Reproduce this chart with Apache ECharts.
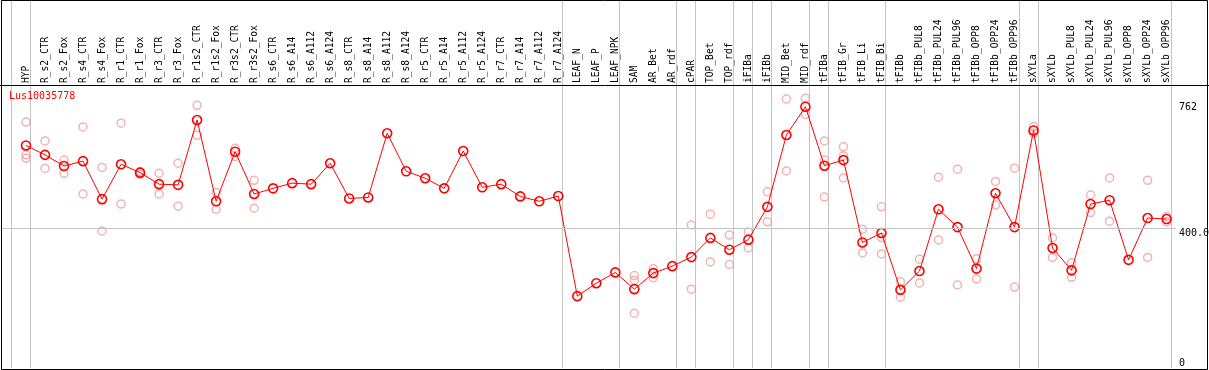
<!DOCTYPE html>
<html>
<head>
<meta charset="utf-8">
<script src="https://cdn.jsdelivr.net/npm/echarts@6/dist/echarts.min.js"></script>
<style>html,body{margin:0;padding:0;background:#fff}#c{width:1209px;height:370px}</style>
</head>
<body>
<div id="c"></div>
<script>
const categories = ['HYP','R_s2_CTR','R_s2_Fox','R_s4_CTR','R_s4_Fox','R_r1_CTR','R_r1_Fox','R_r3_CTR','R_r3_Fox','R_r1s2_CTR','R_r1s2_Fox','R_r3s2_CTR','R_r3s2_Fox','R_s6_CTR','R_s6_A14','R_s6_A112','R_s6_A124','R_s8_CTR','R_s8_A14','R_s8_A112','R_s8_A124','R_r5_CTR','R_r5_A14','R_r5_A112','R_r5_A124','R_r7_CTR','R_r7_A14','R_r7_A112','R_r7_A124','LEAF_N','LEAF_P','LEAF_NPK','SAM','AR_Bet','AR_rdf','cPAR','TOP_Bet','TOP_rdf','iFIBa','iFIBb','MID_Bet','MID_rdf','tFIBa','tFIB_Gr','tFIB_Li','tFIB_Bi','tFIBb','tFIBb_PUL8','tFIBb_PUL24','tFIBb_PUL96','tFIBb_OPP8','tFIBb_OPP24','tFIBb_OPP96','sXYLa','sXYLb','sXYLb_PUL8','sXYLb_PUL24','sXYLb_PUL96','sXYLb_OPP8','sXYLb_OPP24','sXYLb_OPP96'];

const meanValues = [638,611,579,593,484,584,560,527,525,711,478,620,499,515,530,527,587,486,489,673,564,544,515,622,518,527,492,478,493,206,243,274,226,272,292,318,373,339,368,462,668,749,580,596,360,387,224,278,455,404,285,501,404,681,344,280,470,481,310,430,427];

const rep1 = [705,651,596,691,575,702,563,558,587,753,503,630,538,
  null,null,null,null,null,null,null,null,null,null,null,null,null,null,null,null,null,null,null,
  265,285,null,410,441,381,390,505,771,773,651,634,398,462,247,312,547,570,313,535,573,692,373,302,496,545,null,538,434];
const rep2 = [611,572,558,499,393,470,555,499,464,667,455,606,458,
  null,null,null,null,null,null,null,null,null,null,null,null,null,null,null,null,null,null,null,
  251,259,null,226,304,297,344,419,565,727,596,608,330,374,203,244,367,238,255,467,232,673,317,260,446,421,null,317,419];
const rep3 = [601,null,null,null,null,null,null,null,null,null,null,null,null,
  null,null,null,null,null,null,null,null,null,null,null,null,null,null,null,null,null,null,null,
  157,null,null,null,null,null,null,null,null,null,490,545,null,327,null,null,null,null,null,null,null,null,null,null,null,null,null,null,null];

// group separators drawn just after these category indices
const groupEnds = [-1,0,28,31,34,35,37,38,39,41,42,45,52,53,60];

const yTickValues = [0,400,762];
const yTickLabels = ['0','400.0','762'];
const titleText = 'Lus10035778';

const FONT = 'DejaVu Sans Mono';
const X_MIN = -1.2625, X_MAX = 60.494, Y_MIN = 0, Y_MAX = 1055;
const chart = echarts.init(document.getElementById('c'), null, {renderer:'canvas'});

function pts(arr){ const out=[]; arr.forEach((v,i)=>{ if(v!=null) out.push([i,v]); }); return out; }
const repData = pts(rep1).concat(pts(rep2), pts(rep3));

const option = {
  animation: false,
  backgroundColor: '#fff',
  title: {
    text: titleText, left: 9, top: 91, padding: 0,
    textStyle: {color:'#ff0000', fontSize:10, fontFamily:FONT, fontWeight:'normal'}
  },
  grid: {left: 2, right: 33, top: 0, bottom: 2, containLabel: false, outerBoundsMode: 'none'},
  xAxis: {
    type: 'value', min: X_MIN, max: X_MAX, position: 'top', offset: -85,
    axisLine: {show:false}, axisTick: {show:false}, splitLine: {show:false},
    axisLabel: {
      customValues: categories.map((c,i)=>i),
      formatter: v => categories[Math.round(v)] || '',
      rotate: 90, margin: 2, fontSize: 9.6, fontFamily: FONT, color: '#000',
      hideOverlap: false
    }
  },
  yAxis: {
    type: 'value', min: Y_MIN, max: Y_MAX, position: 'right',
    axisLine: {show:false}, axisTick: {show:false}, splitLine: {show:false},
    axisLabel: {
      customValues: yTickValues,
      formatter: v => yTickLabels[yTickValues.indexOf(v)],
      margin: 3, fontSize: 10, fontFamily: FONT, color: '#000',
      align: 'left', verticalAlign: 'top', verticalAlignMinLabel: 'bottom'
    }
  },
  graphic: [
    {type:'rect', silent:true, z:100, shape:{x:1.5,y:0.5,width:1206,height:369}, style:{fill:null, stroke:'#000', lineWidth:1}},
    {type:'line', silent:true, z:100, shape:{x1:0,y1:85.5,x2:1209,y2:85.5}, style:{stroke:'#000', lineWidth:1}}
  ],
  series: [
    {
      type: 'custom', z: 1, clip: false, silent: true,
      data: groupEnds.map(g => [g + 0.21]),
      renderItem: function (params, api) {
        const x = api.value(0);
        const p1 = api.coord([x, Y_MIN]);
        const p2 = api.coord([x, Y_MAX]);
        const px = Math.round(p1[0]) + 0.5;
        return {type:'line', shape:{x1:px, y1:p2[1], x2:px, y2:p1[1]}, style:{stroke:'#c4c4c4', lineWidth:1}};
      },
      encode: {x: 0}
    },
    {
      type: 'scatter', data: repData, z: 2, clip: false,
      symbol: 'circle', symbolSize: 8,
      itemStyle: {color:'rgba(0,0,0,0)', borderColor:'#f0a0a0', borderWidth:1.5},
      markLine: {
        silent: true, symbol: 'none', animation: false, label: {show:false},
        lineStyle: {color:'#c4c4c4', width:1, type:'solid'},
        data: [[{coord:[X_MIN, 400]}, {coord:[X_MAX, 400]}]]
      }
    },
    {
      type: 'line', data: meanValues.map((v,i)=>[i,v]), z: 3,
      symbol: 'circle', symbolSize: 9, showAllSymbol: true,
      lineStyle: {color:'#ff0000', width:1},
      itemStyle: {color:'rgba(0,0,0,0)', borderColor:'#ff0000', borderWidth:1.6}
    }
  ]
};
chart.setOption(option);
</script>
</body>
</html>
